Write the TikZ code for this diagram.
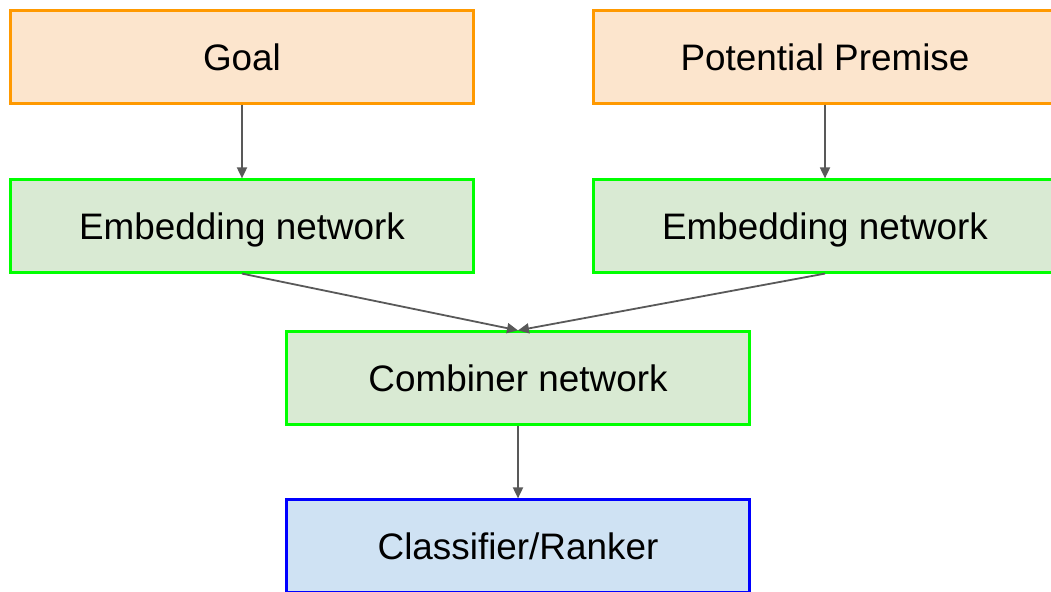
\documentclass[tikz,border=0pt]{standalone}
\usepackage{fontspec}
\setmainfont{Liberation Sans}
\usetikzlibrary{arrows.meta}
\definecolor{inbord}{HTML}{FF9900}
\definecolor{infill}{HTML}{FCE5CD}
\definecolor{netbord}{HTML}{00FF00}
\definecolor{netfill}{HTML}{D9EAD3}
\definecolor{outbord}{HTML}{0000FF}
\definecolor{outfill}{HTML}{CFE2F3}
\definecolor{linkgray}{HTML}{595959}
\tikzset{
  box/.style={draw, line width=2.2bp, minimum width=463bp, minimum height=93bp,
    inner sep=0pt, text height=26.7bp, text depth=0bp,
    font=\fontsize{37}{44}\selectfont, text=black},
  inputbox/.style={box, draw=inbord, fill=infill},
  netbox/.style={box, draw=netbord, fill=netfill},
  outbox/.style={box, draw=outbord, fill=outfill},
  link/.style={draw=linkgray, line width=1.8bp, -{Triangle[length=11bp,width=10bp]}}
}
\begin{document}
\begin{tikzpicture}[x=1bp,y=-1bp]
\useasboundingbox (0,0) rectangle (1051,592);
\clip (0,0) rectangle (1051,592);
\node[inputbox] (goal) at (242,57) {Goal};
\node[inputbox] (prem) at (825,57) {Potential Premise};
\node[netbox] (embl) at (242,226) {Embedding network};
\node[netbox] (embr) at (825,226) {Embedding network};
\node[netbox] (comb) at (518,378) {Combiner network};
\node[outbox] (clas) at (518,546) {Classifier/Ranker};
\draw[link] (goal.south) -- (embl.north);
\draw[link] (prem.south) -- (embr.north);
\draw[link] (embl.south) -- (comb.north);
\draw[link] (embr.south) -- (comb.north);
\draw[link] (comb.south) -- (clas.north);
\end{tikzpicture}
\end{document}
